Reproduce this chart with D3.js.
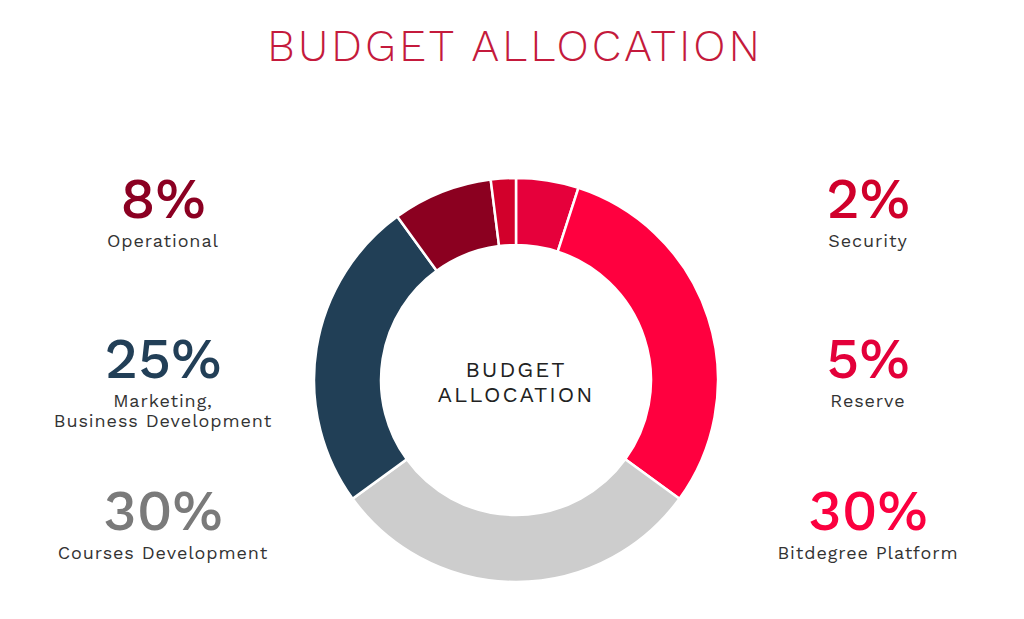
<!DOCTYPE html>
<html>
<head>
<meta charset="utf-8">
<script src="https://cdn.jsdelivr.net/npm/d3@7"></script>
<style>
  body { margin: 0; background: #fff; }
  svg text { font-family: "Work Sans", "Open Sans", "Noto Sans", sans-serif; }
</style>
</head>
<body>
<div id="chart"></div>
<script>
// slices, clockwise from 12 o'clock
var cats = ["Reserve", "Bitdegree Platform", "Courses Development", "Marketing, Business Development", "Operational", "Security"];
var vals = [5, 30, 30, 25, 8, 2];
var cols = ["#e6003b", "#ff003f", "#cdcdcd", "#213f56", "#8b0020", "#d2002b"];
var numCols = ["#e3003a", "#fb003f", "#7a7a7a", "#223f57", "#8b0022", "#d0002b"];

// legend text lines for each category
var lbls = [["Reserve"], ["Bitdegree Platform"], ["Courses Development"], ["Marketing,", "Business Development"], ["Operational"], ["Security"]];
// side + row of each legend block
var side = ["R", "R", "L", "L", "L", "R"];
var row = [1, 2, 2, 1, 0, 0];

var W = 1024, H = 619;
var svg = d3.select("#chart").append("svg").attr("width", W).attr("height", H);

// title
svg.append("text")
    .attr("x", 515).attr("y", 61)
    .attr("text-anchor", "middle")
    .attr("fill", "#c41a3c")
    .attr("font-size", 44)
    .attr("font-weight", 300)
    .attr("letter-spacing", 3)
    .text("BUDGET ALLOCATION");

var cx = 516, cy = 380;
var g = svg.append("g").attr("transform", `translate(${cx},${cy})`);

var pie = d3.pie().sort(null).value(d => d);
var arc = d3.arc().innerRadius(135).outerRadius(202);

g.selectAll("path")
    .data(pie(vals))
    .enter()
    .append("path")
    .attr("d", arc)
    .attr("fill", (d, i) => cols[i])
    .attr("stroke", "#fff")
    .attr("stroke-width", 2.5);

// centre label
g.append("text").attr("text-anchor", "middle").attr("y", -3)
    .attr("font-size", 22).attr("letter-spacing", 2).attr("fill", "#222")
    .text("BUDGET");
g.append("text").attr("text-anchor", "middle").attr("y", 22)
    .attr("font-size", 22).attr("letter-spacing", 2).attr("fill", "#222")
    .text("ALLOCATION");

// legend blocks
var colX = { L: 163, R: 868 };
var rowY = [218, 378, 530];

cats.forEach((c, i) => {
    var x = colX[side[i]], y = rowY[row[i]];
    svg.append("text")
        .attr("x", x).attr("y", y)
        .attr("text-anchor", "middle")
        .attr("font-size", 57)
        .attr("font-weight", 500)
        .attr("fill", numCols[i])
        .text(vals[i] + "%");
    lbls[i].forEach((t, j) => {
        svg.append("text")
            .attr("x", x).attr("y", y + 29 + j * 20)
            .attr("text-anchor", "middle")
            .attr("font-size", 18)
            .attr("letter-spacing", 0.9)
            .attr("fill", "#333")
            .text(t);
    });
});
</script>
</body>
</html>
